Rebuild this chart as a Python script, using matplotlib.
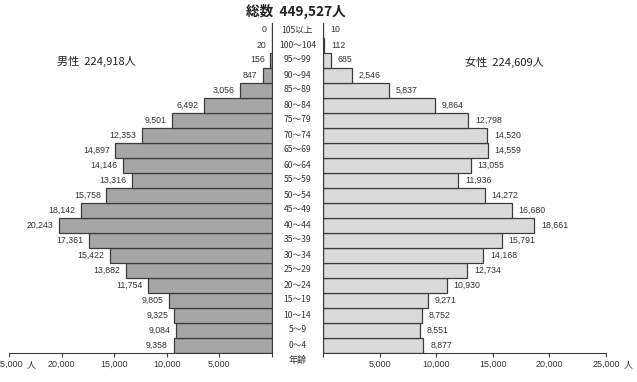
import numpy as np
import matplotlib
matplotlib.use('Agg')
import matplotlib.pyplot as plt

plt.rcParams['font.family'] = ['Noto Sans CJK JP', 'DejaVu Sans']

#===============================================================================
# Data (0-4 at the bottom up to 105+ at the top)
#===============================================================================

ages = ['0～4', '5～9', '10～14', '15～19', '20～24', '25～29', '30～34',
        '35～39', '40～44', '45～49', '50～54', '55～59', '60～64', '65～69',
        '70～74', '75～79', '80～84', '85～89', '90～94', '95～99',
        '100～104', '105以上']

male = [9358, 9084, 9325, 9805, 11754, 13882, 15422, 17361, 20243, 18142,
        15758, 13316, 14146, 14897, 12353, 9501, 6492, 3056, 847, 156, 20, 0]

female = [8877, 8551, 8752, 9271, 10930, 12734, 14168, 15791, 18661, 16680,
          14272, 11936, 13055, 14559, 14520, 12798, 9864, 5837, 2546, 685, 112, 10]

ticks = [0, 5000, 10000, 15000, 20000, 25000]
tick_labels = ['', '5,000', '10,000', '15,000', '20,000', '25,000']

title = '総数  449,527人'
male_total = '男性  224,918人'
female_total = '女性  224,609人'

#===============================================================================
# Figure
#===============================================================================

W, H = 637, 382
fig = plt.figure(figsize=(W / 100, H / 100), dpi=100)

y_bot = 1 - 352.5 / H
y_h = 330 / H
ax_m = fig.add_axes([9 / W, y_bot, 263 / W, y_h])
ax_f = fig.add_axes([323 / W, y_bot, 283 / W, y_h])

y = np.arange(len(ages))
edge = '#3c3c3c'
txt = '#333333'
num_font = 'Liberation Sans'

ax_m.barh(y, male, height=1.0, color='#a6a6a6', edgecolor=edge, linewidth=0.9)
ax_f.barh(y, female, height=1.0, color='#dadada', edgecolor=edge, linewidth=0.9)

ax_m.set_xlim(25000, 0)
ax_f.set_xlim(0, 25000)
for ax in (ax_m, ax_f):
    ax.set_ylim(-0.5, len(ages) - 0.5)
    ax.set_yticks([])
    ax.set_xticks(ticks)
    ax.set_xticklabels(tick_labels, fontsize=6.5, family=num_font, color=txt)
    ax.tick_params(axis='x', direction='out', length=3, pad=2.5,
                   color=edge, width=0.8)
    ax.spines['top'].set_visible(False)
    ax.spines['bottom'].set_color(edge)
    ax.patch.set_alpha(0)

ax_m.spines['left'].set_visible(False)
ax_m.spines['right'].set_color(edge)
ax_f.spines['right'].set_visible(False)
ax_f.spines['left'].set_color(edge)

# Value labels
for i, v in enumerate(male):
    ax_m.annotate(f'{v:,}', xy=(v, i), xytext=(-4, 0), textcoords='offset points',
                  ha='right', va='center', fontsize=6.3, family=num_font, color=txt)
for i, v in enumerate(female):
    ax_f.annotate(f'{v:,}', xy=(v, i), xytext=(5, 0), textcoords='offset points',
                  ha='left', va='center', fontsize=6.3, family=num_font, color=txt)

# Age labels in the middle gap
for i, a in enumerate(ages):
    fig.text(297.5 / W, 1 - (345 - 15 * i) / H, a, ha='center', va='center',
             fontsize=6.2, color=txt)

# Unit markers after the 25,000 tick labels (the left one is cut off, as in the original)
for ax in (ax_m, ax_f):
    ax.annotate('人', xy=(25000, 0), xycoords=('data', 'axes fraction'),
                xytext=(12.5, -8.5), textcoords='offset points',
                ha='left', va='center', fontsize=6.5, color=txt)

fig.text(297.5 / W, 1 - 360 / H, '年齢', ha='center', va='center',
         fontsize=6.5, color=txt)

# Titles
fig.text(296 / W, 1 - 11 / H, title, ha='center', va='center',
         fontsize=9.8, fontweight='bold', color='#222222')
fig.text(96 / W, 1 - 61 / H, male_total, ha='center', va='center',
         fontsize=8, color='#222222')
fig.text(504 / W, 1 - 62 / H, female_total, ha='center', va='center',
         fontsize=8, color='#222222')

fig.savefig('out.png', dpi=100)
